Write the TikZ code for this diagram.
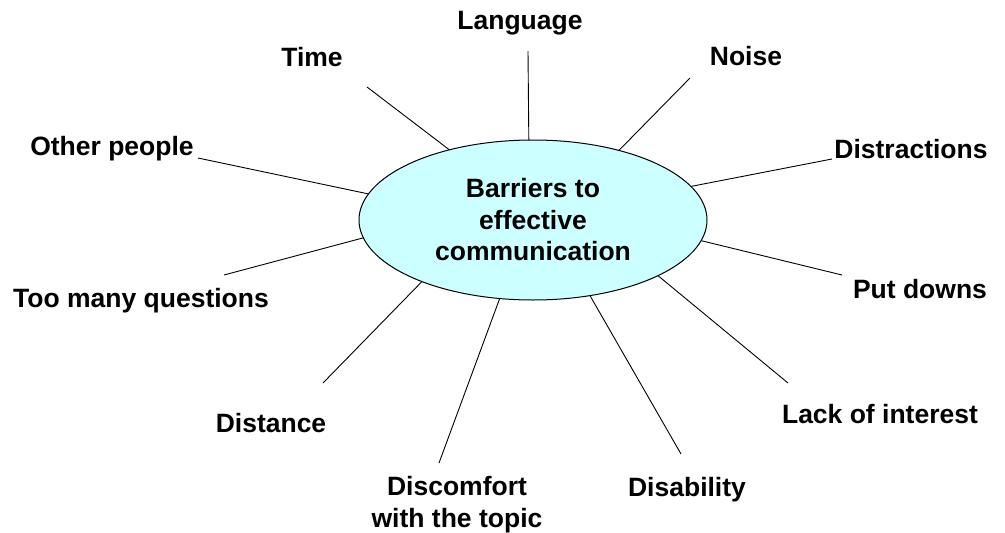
\documentclass[tikz,border=0pt]{standalone}
\usepackage{fontspec}
\setmainfont{Liberation Sans}
\usetikzlibrary{shapes.geometric}
\definecolor{hubfill}{HTML}{CCFFFF}
\begin{document}
\begin{tikzpicture}[x=1pt,y=-1pt,
  txt/.style={font=\bfseries\fontsize{26.5}{31.5}\selectfont},
  lbl/.style={txt, inner sep=0pt, outer sep=0pt, anchor=base, align=center},
  hub/.style={txt, ellipse, draw=black, line width=1pt, fill=hubfill,
    minimum width=348pt, minimum height=160pt, inner sep=0pt, outer sep=0pt, align=center},
  spoke/.style={draw=black, line width=0.9pt}]
\fill[white] (0,0) rectangle (1005,533);
\useasboundingbox (0,0) rectangle (1005,533);

\node[hub] (c) at (533,220) {Barriers to\\effective\\communication};

\node[lbl] (language) at (520,29) {Language};
\node[lbl] (time) at (312,66) {Time};
\node[lbl] (noise) at (746,65) {Noise};
\node[lbl] (distractions) at (911,158) {Distractions};
\node[lbl] (other) at (112,155) {Other people};
\node[lbl] (toomany) at (141,307) {Too many questions};
\node[lbl] (putdowns) at (920,298) {Put downs};
\node[lbl] (distance) at (271,432) {Distance};
\node[lbl] (lack) at (880,423) {Lack of interest};
\node[lbl, anchor=center] (discomfort) at (457,504.6) {Discomfort\\with the topic};
\node[lbl] (disability) at (687,496) {Disability};

\coordinate (eLanguage) at (528,51);
\coordinate (eTime) at (367,87);
\coordinate (eNoise) at (690,78);
\coordinate (eDistractions) at (832,159);
\coordinate (eOther) at (198,158);
\coordinate (eTooMany) at (224,275);
\coordinate (ePutDowns) at (842,275);
\coordinate (eLack) at (788,383);
\coordinate (eDistance) at (323,383);
\coordinate (eDiscomfort) at (439,463);
\coordinate (eDisability) at (681,454);

\draw[spoke] (c.93.6) -- (eLanguage);
\draw[spoke] (c.140.1) -- (eTime);
\draw[spoke] (c.39.9) -- (eNoise);
\draw[spoke] (c.12.9) -- (eDistractions);
\draw[spoke] (c.171.1) -- (eOther);
\draw[spoke] (c.186.2) -- (eTooMany);
\draw[spoke] (c.353.5) -- (ePutDowns);
\draw[spoke] (c.336.7) -- (eLack);
\draw[spoke] (c.209.7) -- (eDistance);
\draw[spoke] (c.247.2) -- (eDiscomfort);
\draw[spoke] (c.307.6) -- (eDisability);
\end{tikzpicture}
\end{document}
